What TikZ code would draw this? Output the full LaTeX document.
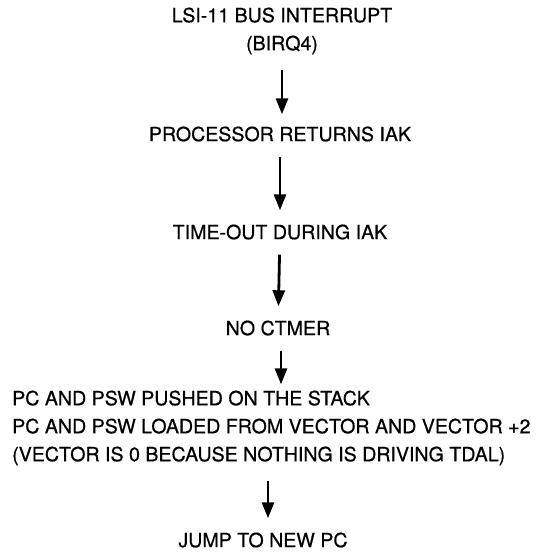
\documentclass[tikz,border=0pt]{standalone}
\usepackage{fontspec}
\setmainfont[FakeBold=0.6]{TeX Gyre Heros}
\usetikzlibrary{arrows.meta}

\begin{document}
\begin{tikzpicture}[
  x=1pt,y=-1pt,
  font=\fontsize{19.6}{28}\selectfont,
  stage/.style={inner sep=0pt,align=center},
  flow/.style={-{Triangle[length=16pt,width=12pt]},line width=2.8pt,
    shorten <=15pt,shorten >=14pt}
]
  \useasboundingbox (0,0) rectangle (550,552);

  \node[stage] (intr) at (282,31) {LSI-11 BUS INTERRUPT\\(BIRQ4)};
  \node[stage] (proc) at (280,134) {PROCESSOR RETURNS IAK};
  \node[stage] (tout) at (280,232) {TIME-OUT DURING IAK};
  \node[stage] (noct) at (278,328) {NO CTMER};
  \node[stage,align=left,anchor=west] (push) at (12,428)
    {PC AND PSW PUSHED ON THE STACK\\
     PC AND PSW LOADED FROM VECTOR AND VECTOR +2\\
     (VECTOR IS 0 BECAUSE NOTHING IS DRIVING TDAL)};
  \node[stage] (jump) at (263,540) {JUMP TO NEW PC};

  \draw[flow,shorten >=12pt] (intr.south -| 282,0) -- (proc.north -| 282,0);
  \draw[flow] (proc) -- (tout);
  \draw[flow] (tout) -- (noct);
  \draw[flow,shorten >=6pt] (noct.south -| 281,0) -- (push.north -| 281,0);
  \draw[flow] (push.south -| 268,0) -- (jump.north -| 268,0);
\end{tikzpicture}
\end{document}
